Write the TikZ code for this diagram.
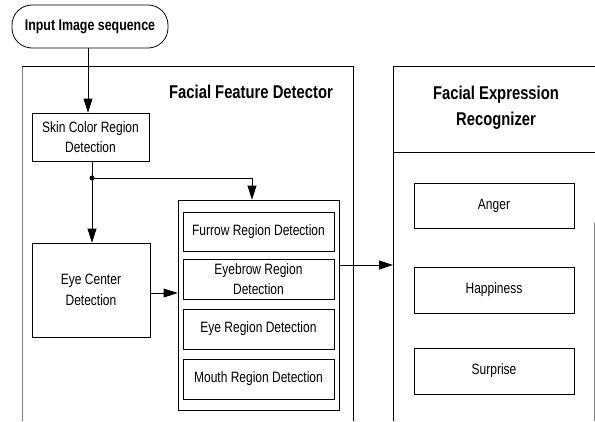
\documentclass[tikz,border=0pt]{standalone}
\usepackage{fontspec}
\setmainfont{Liberation Sans}[FakeStretch=0.8]
\usetikzlibrary{arrows.meta}
\begin{document}
\begin{tikzpicture}[x=1pt,y=-1pt,
  line width=0.8pt,
  box/.style={draw, inner sep=1pt, align=center, font=\fontsize{15}{20.5}\selectfont},
  title/.style={align=center, font=\fontsize{18.5}{26}\selectfont\bfseries},
  arr/.style={-{Triangle[length=14pt,width=9pt]}},
  frame/.style={line width=0.8pt},
  faint/.style={line width=0.8pt, gray}]
\useasboundingbox (0,0) rectangle (595,421);
% input
\node[draw, rounded corners=20pt, minimum width=156pt, minimum height=43pt,
      font=\fontsize{15.5}{17}\selectfont\bfseries] (input) at (90,26.5) {Input Image sequence};
% frames
\draw[faint] (22,66) -- (22,421);
\draw[frame] (22,66) -- (353,66) -- (353,421);
\draw[frame] (595,66) -- (393,66) -- (393,421);
\draw[frame] (393,152) -- (595,152);
\draw[faint] (594,223) -- (594,421);
\node[title] (t1) at (251,92) {Facial Feature Detector};
\node[title] (t2) at (496,108) {Facial Expression\\Recognizer};
% left boxes
\node[box, minimum width=117pt, minimum height=48pt] (skin) at (90.5,137) {Skin Color Region\\Detection};
\node[box, minimum width=118pt, minimum height=94pt] (eyec) at (91,290) {Eye Center\\Detection};
% group
\node[draw, minimum width=161pt, minimum height=210pt] (group) at (258.5,305) {};
\node[box, minimum width=151pt, minimum height=39pt] (furrow) at (258.5,231.5) {Furrow Region Detection};
\node[box, minimum width=151pt, minimum height=40pt] (eyebrow) at (258.5,279) {Eyebrow Region\\Detection};
\node[box, minimum width=151pt, minimum height=40pt] (eyereg) at (258.5,329) {Eye Region Detection};
\node[box, minimum width=151pt, minimum height=40pt] (mouth) at (258.5,379) {Mouth Region Detection};
% right boxes
\node[box, minimum width=160pt, minimum height=45pt] (anger) at (494,205.5) {Anger};
\node[box, minimum width=160pt, minimum height=46pt] (happy) at (494,290) {Happiness};
\node[box, minimum width=160pt, minimum height=46pt] (surprise) at (494,371) {Surprise};
% connectors
\coordinate (split) at (92,178);
\coordinate (turn) at (252,178);
\coordinate (rfin) at (393,265);
\draw[arr] (input.south -| 88,0) -- (skin.north -| 88,0);
\draw (skin.south -| split) -- (split);
\draw[arr] (split) -- (eyec.north -| split);
\fill (split) circle (2.5pt);
\draw[arr] (split) -- (turn) -- (group.north -| turn);
\draw[arr] (eyec.east |- 0,293) -- (group.west |- 0,293);
\draw[arr] (group.east |- rfin) -- (rfin);
\end{tikzpicture}
\end{document}
